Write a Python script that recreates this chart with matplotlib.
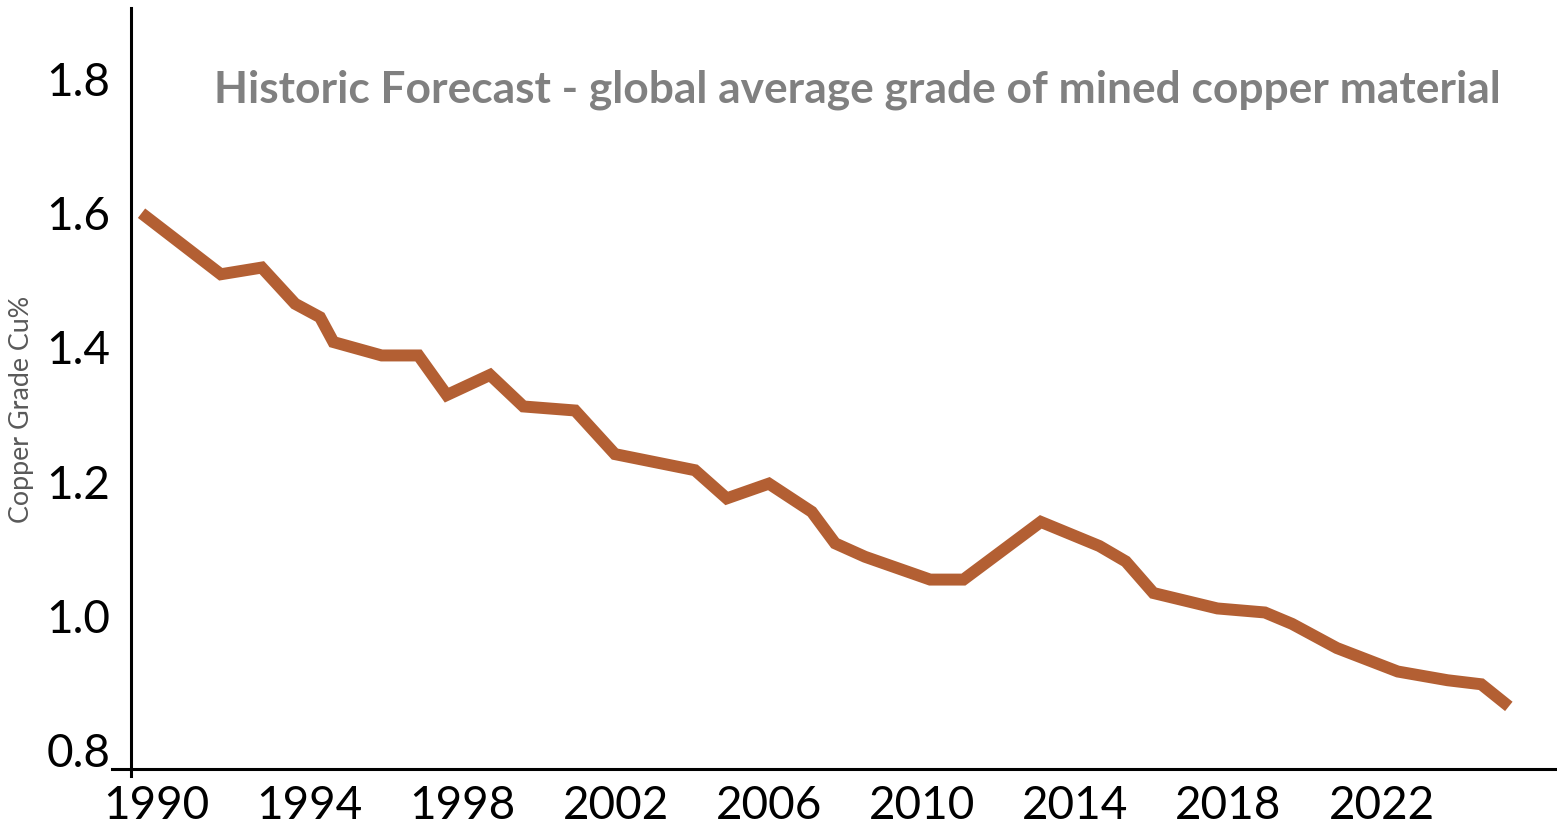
import matplotlib
matplotlib.use("Agg")
import matplotlib.pyplot as plt

# Data (fractional years as placed on the axis)
years = [1989.62, 1991.69, 1992.76, 1993.63, 1994.28, 1994.63, 1995.89, 1996.85,
         1997.59, 1998.72, 1999.59, 2000.94, 2001.98, 2004.07, 2004.90, 2006.00,
         2007.12, 2007.73, 2008.51, 2010.21, 2011.08, 2013.10, 2014.63, 2015.32,
         2016.04, 2017.71, 2018.95, 2019.66, 2020.83, 2022.42, 2023.72, 2024.60,
         2025.32]
grade = [1.600, 1.509, 1.519, 1.465, 1.445, 1.408, 1.388, 1.388,
         1.329, 1.359, 1.312, 1.306, 1.241, 1.217, 1.175, 1.197,
         1.155, 1.108, 1.088, 1.054, 1.054, 1.140, 1.104, 1.081,
         1.034, 1.011, 1.005, 0.988, 0.952, 0.917, 0.904, 0.898,
         0.865]
x_ticks = [1990, 1994, 1998, 2002, 2006, 2010, 2014, 2018, 2022]
y_ticks = [0.8, 1.0, 1.2, 1.4, 1.6, 1.8]
title = "Historic Forecast - global average grade of mined copper material"
ylabel = "Copper Grade Cu%"

W, H, DPI = 1557, 826, 100
fig = plt.figure(figsize=(W / DPI, H / DPI), dpi=DPI)
fig.patch.set_facecolor("white")

left_px, right_px, top_px, bottom_px = 112, 1557, 8, 776
ax = fig.add_axes([left_px / W, 1 - bottom_px / H,
                   (right_px - left_px) / W, (bottom_px - top_px) / H])
ax.set_facecolor("white")
ax.plot(years, grade, color="#B35F33", lw=8.6, solid_joinstyle="miter",
        solid_capstyle="butt")

ax.set_xlim(1988.849, 2026.578)
ax.set_ylim(0.7613, 1.9058)

for s in ["top", "right"]:
    ax.spines[s].set_visible(False)
ax.spines["left"].set_position(("data", 1989.345))
ax.spines["bottom"].set_position(("data", 0.7717))
for s in ["left", "bottom"]:
    ax.spines[s].set_linewidth(2.2)
    ax.spines[s].set_color("black")

ax.set_xticks(x_ticks)
ax.set_xticklabels([str(t) for t in x_ticks])
ax.set_yticks(y_ticks)
ax.set_yticklabels([f"{t:.1f}" for t in y_ticks])
ax.tick_params(axis="both", length=0, labelsize=33, colors="black")
ax.tick_params(axis="y", pad=15)
ax.tick_params(axis="x", pad=11.5)
for lab in ax.get_xticklabels() + ax.get_yticklabels():
    lab.set_fontfamily("Lato")

# Title
t = fig.text(857.5 / W, 1 - 103 / H, title, ha="center", va="baseline",
             fontsize=34, fontweight="bold", color="#808080", family="Lato")
fig.canvas.draw()
r = fig.canvas.get_renderer()
w = t.get_window_extent(r).width
t.set_fontsize(34 * 1289 / w)

# Y label
yl = fig.text(22 / W, 1 - 409 / H, ylabel, ha="center", va="center",
              rotation=90, fontsize=18, color="#595959", family="Lato")
fig.canvas.draw()
h = yl.get_window_extent(r).height
yl.set_fontsize(18 * 228 / h)

fig.savefig("out.png", dpi=DPI, facecolor="white")
